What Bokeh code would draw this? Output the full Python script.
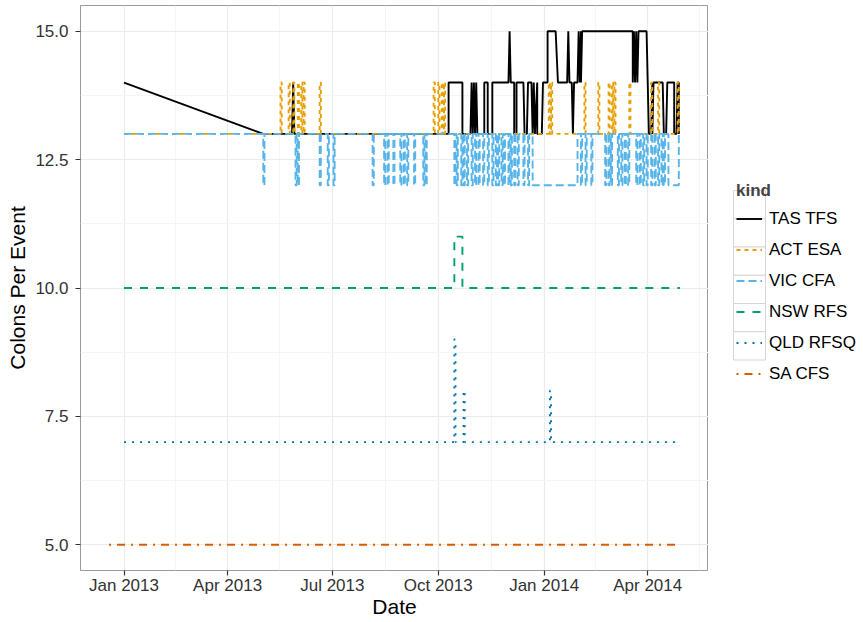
from datetime import datetime, timedelta

from bokeh.plotting import figure
from bokeh.layouts import row
from bokeh.models import (Range1d, FixedTicker, DatetimeTickFormatter,
                          PrintfTickFormatter, Legend, LegendItem)
from bokeh.embed import file_html
from bokeh.resources import INLINE

# ---------------- data ----------------
# x values are days since 1 Jan 2013
START = datetime(2013, 1, 1)

kinds = ["TAS TFS", "ACT ESA", "VIC CFA", "NSW RFS", "QLD RFSQ", "SA CFS"]
colors = ["#000000", "#E69F00", "#56B4E9", "#009E73", "#0072B2", "#D55E00"]
dashes = ["solid", "4 4", "8 4", "8 8", "2 6", "2 6 8 6"]

# TAS TFS: explicit observations
tas_day = [0, 121, 146, 147, 148,
           282, 282, 294, 294,
           301, 302, 303, 304, 305, 306, 307,
           313, 313, 316, 316,
           320, 320, 334, 335, 336, 339, 339, 341, 341, 347, 348, 350, 351, 354, 355, 356, 357, 359, 359,
           363, 364, 368, 368, 375, 377, 385, 386, 387, 389, 390, 391, 394, 395, 396, 397, 397, 398,
           442, 442, 443, 444, 445, 446, 447,
           454, 455, 456, 458, 459, 459, 460, 468, 469, 471, 472, 478, 478, 480, 481, 482, 482]
tas_val = [14, 13, 13, 14, 13,
           13, 14, 14, 13,
           13, 14, 13, 14, 13, 14, 13,
           13, 14, 14, 13,
           13, 14, 14, 15, 14, 14, 13, 13, 14, 14, 13, 13, 14, 14, 13, 14, 13, 14, 13,
           13, 14, 14, 15, 15, 14, 14, 15, 14, 14, 13, 14, 14, 15, 14, 15, 14, 15,
           15, 14, 15, 14, 15, 14, 15,
           15, 14, 13, 13, 14, 13, 14, 14, 13, 13, 14, 14, 13, 13, 14, 14, 13]

# ACT ESA: baseline 13 with excursions to 14
act_base, act_first, act_last = 13, 0, 483
act_from = [136, 143, 147, 151, 154, 156, 170, 269, 273, 276, 278, 369, 371,
            400, 412, 421, 424, 426, 439, 458, 464, 481]
act_to = [137, 144, 148, 152, 155, 157, 171, 270, 274, 277, 279, 370, 372,
          401, 413, 422, 425, 427, 440, 459, 465, 482]
act_peak = [14] * len(act_from)

# VIC CFA: baseline 13 with excursions to 12
vic_base, vic_first, vic_last = 13, 0, 482
vic_from = [121, 149, 151, 170, 177, 182, 216, 226, 229, 234, 240, 243, 246, 252,
            260, 262, 287, 289, 293, 295, 298, 302, 305, 308, 312, 316, 320, 323,
            325, 328, 330, 334, 336, 339, 342, 347, 351, 355, 397, 401, 406, 418,
            421, 423, 429, 432, 435, 438, 445, 448, 451, 454, 458, 461, 464, 467,
            469, 473]
vic_to = [122, 150, 152, 171, 178, 183, 217, 227, 230, 235, 241, 244, 247, 253,
          261, 263, 288, 290, 294, 296, 299, 303, 306, 309, 313, 317, 321, 324,
          326, 329, 331, 335, 337, 340, 343, 348, 352, 394, 398, 402, 407, 419,
          422, 424, 430, 433, 436, 439, 446, 449, 452, 455, 459, 462, 465, 468,
          470, 482]
vic_low = [12] * len(vic_from)

# NSW RFS
nsw_base, nsw_first, nsw_last = 10, 0, 483
nsw_from, nsw_to, nsw_peak = [287], [294], [11]

# QLD RFSQ
qld_base, qld_first, qld_last = 7, 0, 483
qld_from, qld_to, qld_peak = [287, 295, 370], [288, 296, 371], [9, 8, 8]

# SA CFS
sa_base, sa_first, sa_last = 5, -13, 483
sa_from, sa_to, sa_peak = [], [], []

y_ticks = [5.0, 7.5, 10.0, 12.5, 15.0]
y_minor = [6.25, 8.75, 11.25, 13.75]
x_tick_dates = [datetime(2013, 1, 1), datetime(2013, 4, 1), datetime(2013, 7, 1),
                datetime(2013, 10, 1), datetime(2014, 1, 1), datetime(2014, 4, 1)]
x_minor_dates = [datetime(2012, 11, 16), datetime(2013, 2, 15), datetime(2013, 5, 16),
                 datetime(2013, 8, 16), datetime(2013, 11, 16), datetime(2014, 2, 15),
                 datetime(2014, 5, 16)]


def series(base, first, last, frm, to, lvl):
    days, vals = [first], [base]
    for s, e, v in zip(frm, to, lvl):
        days += [s, s, e, e]
        vals += [base, v, v, base]
    days.append(last)
    vals.append(base)
    return days, vals


all_series = [
    (tas_day, tas_val),
    series(act_base, act_first, act_last, act_from, act_to, act_peak),
    series(vic_base, vic_first, vic_last, vic_from, vic_to, vic_low),
    series(nsw_base, nsw_first, nsw_last, nsw_from, nsw_to, nsw_peak),
    series(qld_base, qld_first, qld_last, qld_from, qld_to, qld_peak),
    series(sa_base, sa_first, sa_last, sa_from, sa_to, sa_peak),
]


def to_dt(d):
    return START + timedelta(days=d)


def to_ms(dt):
    return (dt - datetime(1970, 1, 1)).total_seconds() * 1000.0


# ---------------- main figure ----------------
FONT = "Liberation Sans"
H = 620
LW = 1.9
x_lo, x_hi = -37.8, 507.8

p = figure(width=708, height=H, x_axis_type="datetime",
           x_range=Range1d(to_dt(x_lo), to_dt(x_hi)),
           y_range=Range1d(4.5, 15.5),
           output_backend="svg", toolbar_location=None,
           min_border_left=80, min_border_right=0,
           min_border_top=5, min_border_bottom=44)

p.background_fill_color = "white"
p.border_fill_color = "white"
p.outline_line_color = "#9A9A9A"
p.outline_line_width = 1

renderers = []
for (days, vals), col, dash in zip(all_series, colors, dashes):
    r = p.line([to_dt(d) for d in days], vals, line_color=col,
               line_width=LW, line_dash=dash)
    renderers.append(r)

# axes
p.xaxis.ticker = FixedTicker(ticks=[to_ms(d) for d in x_tick_dates],
                             minor_ticks=[to_ms(d) for d in x_minor_dates])
p.xaxis.formatter = DatetimeTickFormatter(days="%b %Y", months="%b %Y",
                                          years="%b %Y", hours="%b %Y")
p.yaxis.ticker = FixedTicker(ticks=y_ticks, minor_ticks=y_minor)
p.yaxis.formatter = PrintfTickFormatter(format="%.1f")

for ax in (p.xaxis, p.yaxis):
    ax.axis_line_color = None
    ax.major_tick_line_color = "#333333"
    ax.major_tick_line_width = 1.2
    ax.major_tick_out = 5
    ax.major_tick_in = 0
    ax.minor_tick_line_color = None
    ax.major_label_text_font = FONT
    ax.major_label_text_font_size = "17px"
    ax.major_label_text_color = "#333333"
    ax.axis_label_text_font = FONT
    ax.axis_label_text_font_size = "21px"
    ax.axis_label_text_font_style = "normal"
    ax.axis_label_text_color = "#000000"

p.xaxis.axis_label = "Date"
p.yaxis.axis_label = "Colons Per Event"
p.xaxis.major_label_standoff = 0
p.xaxis.axis_label_standoff = -3
p.yaxis.major_label_standoff = 7
p.yaxis.axis_label_standoff = 3

# grid
for g in (p.xgrid, p.ygrid):
    g.grid_line_color = "#EBEBEB"
    g.grid_line_width = 1.2
    g.minor_grid_line_color = "#F5F5F5"
    g.minor_grid_line_width = 1

# ---------------- legend panel ----------------
LEG_W = 155
lf = figure(width=LEG_W, height=H, x_range=Range1d(0, LEG_W), y_range=Range1d(H, 0),
            output_backend="svg", toolbar_location=None, min_border=0,
            x_axis_location=None, y_axis_location=None)
lf.outline_line_color = None
lf.grid.visible = False
lf.background_fill_color = "white"
lf.border_fill_color = "white"

# key boxes (theme_bw legend keys)
KEY_LEFT, KEY_W, KEY_TOP, KEY_H = 25, 32, 203, 31
n = len(kinds)
lf.quad(left=[KEY_LEFT] * n, right=[KEY_LEFT + KEY_W] * n,
        top=[KEY_TOP + i * KEY_H for i in range(n)],
        bottom=[KEY_TOP + (i + 1) * KEY_H for i in range(n)],
        fill_color="white", line_color="#D6D6D6", line_width=1)

# legend key renderers (kept outside the visible range)
keys = []
for col, dash in zip(colors, dashes):
    keys.append(lf.line(x=[-10, -5], y=[-10, -5], line_color=col,
                        line_width=LW, line_dash=dash))

items = [LegendItem(label=k, renderers=[r]) for k, r in zip(kinds, keys)]
legend = Legend(items=items, title="kind", location=(28, 181),
                orientation="vertical")
legend.title_text_font = FONT
legend.title_text_font_size = "17px"
legend.title_text_font_style = "bold"
legend.title_standoff = 2
legend.label_text_font = FONT
legend.label_text_font_size = "17px"
legend.label_text_color = "#000000"
legend.glyph_width = 26
legend.glyph_height = 31
legend.label_height = 31
legend.label_standoff = 7
legend.spacing = 0
legend.padding = 3
legend.margin = 0
legend.border_line_color = None
legend.background_fill_alpha = 0
lf.add_layout(legend, "center")

layout = row(p, lf)
open("out.html", "w").write(file_html(layout, INLINE))
